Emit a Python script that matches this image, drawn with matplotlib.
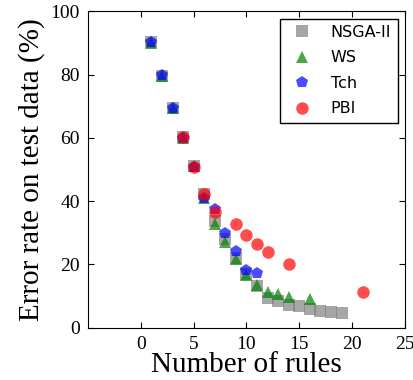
import matplotlib
matplotlib.use("Agg")
import matplotlib.pyplot as plt

# data
nsga_x = [1, 2, 3, 4, 5, 6, 7, 8, 9, 10, 11, 12, 13, 14, 15, 16, 17, 18, 19]
nsga_y = [90.2, 79.7, 69.4, 60.2, 51.1, 42.1, 33.8, 28.0, 21.9, 16.8, 13.3, 9.4, 8.3, 7.2, 6.9, 5.9, 5.1, 4.8, 4.7]

ws_x = [1, 2, 3, 4, 5, 6, 7, 8, 9, 10, 11, 12, 13, 14, 16]
ws_y = [90.0, 79.7, 69.4, 60.0, 51.0, 41.0, 32.9, 27.2, 21.8, 16.5, 13.6, 11.4, 10.5, 9.8, 9.0]

tch_x = [1, 2, 3, 4, 5, 6, 7, 8, 9, 10, 11]
tch_y = [90.4, 79.8, 69.6, 60.0, 50.8, 40.9, 37.5, 29.9, 24.2, 18.2, 17.3]

pbi_x = [4, 5, 6, 7, 9, 10, 11, 12, 14, 21]
pbi_y = [60.2, 50.8, 42.3, 36.5, 32.8, 29.4, 26.5, 23.8, 20.2, 11.3]

xticks = [0, 5, 10, 15, 20, 25]
yticks = [0, 20, 40, 60, 80, 100]

fig = plt.figure(figsize=(4.14, 3.8), dpi=100)
ax = fig.add_axes([0.2126, 0.138, 0.7655, 0.832])

ax.plot(nsga_x, nsga_y, 's', color='gray', alpha=0.7, ms=8, mew=0, label='NSGA-II')
ax.plot(ws_x, ws_y, '^', color='green', alpha=0.7, ms=9, mew=0, label='WS')
ax.plot(tch_x, tch_y, 'p', color='blue', alpha=0.7, ms=9, mew=0, label='Tch')
ax.plot(pbi_x, pbi_y, 'o', color='red', alpha=0.7, ms=9, mew=0, label='PBI')

ax.set_xlim(-5, 25)
ax.set_ylim(0, 100)
ax.set_xticks(xticks)
ax.set_yticks(yticks)
ax.tick_params(direction='in', length=4, top=True, right=True, labelsize=14, pad=6)
for lab in ax.get_xticklabels() + ax.get_yticklabels():
    lab.set_family('Liberation Serif')

ax.set_xlabel('Number of rules', family='Liberation Serif', fontsize=21, labelpad=-1)
ax.set_ylabel('Error rate on test data (%)', family='Liberation Serif', fontsize=21, labelpad=4)

leg = ax.legend(loc='upper right', numpoints=1, fancybox=False, framealpha=1,
                prop={'family': 'DejaVu Sans', 'size': 11.5}, borderaxespad=0.45,
                labelspacing=0.65)
leg.get_frame().set_edgecolor('black')

fig.savefig('out.png', dpi=100)
